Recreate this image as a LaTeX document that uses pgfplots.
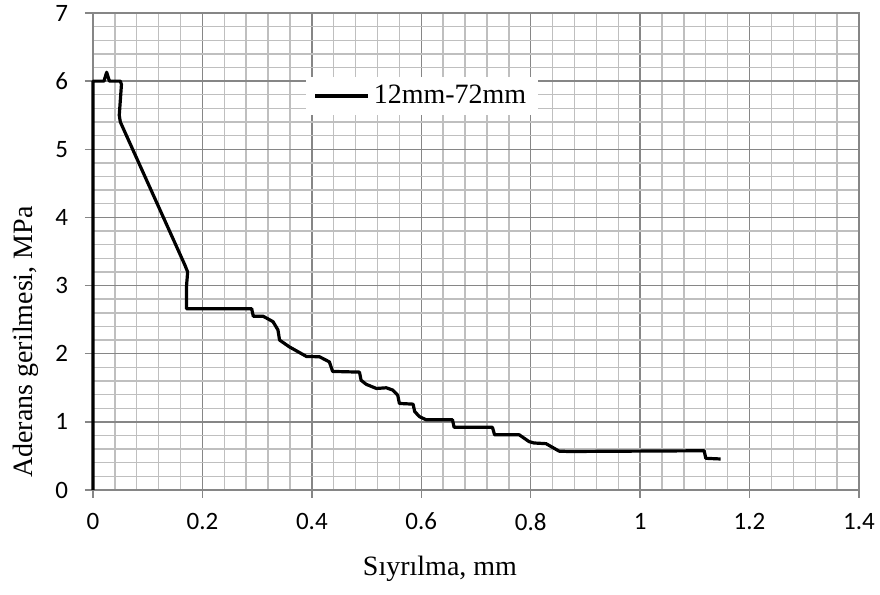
\documentclass[border=0pt]{standalone}
\usepackage{fontspec}
\setmainfont{Liberation Serif}
\newfontfamily\carlito{Carlito}
\usepackage{pgfplots}
\pgfplotsset{compat=1.18}
\definecolor{majorgrid}{RGB}{134,134,134}
\definecolor{minorgrid}{RGB}{191,191,191}

\begin{document}
\begin{tikzpicture}
% page = 880x595 px at 0.5pt per px, axis box at (0,0)
\path[use as bounding box, fill=white] (-46.5pt,-52.5pt) rectangle ++(440pt,297.5pt);
\begin{axis}[
    scale only axis, width=383pt, height=238.5pt,
    xmin=0, xmax=1.4, ymin=0, ymax=7,
    xtick distance=0.2, ytick distance=1,
    minor x tick num=4, minor y tick num=4,
    grid=both,
    major grid style={draw=majorgrid, line width=0.7pt},
    minor grid style={draw=minorgrid, line width=0.7pt},
    axis line style={draw=majorgrid, line width=0.7pt},
    tick pos=left, tick align=outside,
    major tick length=4pt, minor tick length=0pt,
    tick style={draw=majorgrid, line width=0.7pt},
    tick label style={font=\carlito\fontsize{12.5}{14}\selectfont},
    xticklabel style={yshift=-4pt},
    yticklabel style={xshift=-5pt},
    /pgf/number format/assume math mode=true,
    clip=false,
    xlabel={Sıyrılma, mm},
    ylabel={Aderans gerilmesi, MPa},
    label style={font=\fontsize{14}{16}\selectfont},
    xlabel style={at={(axis description cs:0.453,-0.124)}, anchor=north},
    ylabel style={at={(axis description cs:-0.062,0.31)}, anchor=south},
    legend style={at={(axis description cs:0.277,0.866)}, anchor=north west,
        draw=none, fill=white, font=\fontsize{14}{16}\selectfont,
        inner xsep=4pt, inner ysep=2pt},
    legend image code/.code={\draw[#1] (0pt,0pt) -- (26.5pt,0pt);},
]
\addplot[black, line width=1.6pt, line join=round] coordinates {
    (0,0) (0,6.0) (0.02,6.0) (0.025,6.13) (0.03,6.0) (0.05,6.0)
    (0.052,5.95) (0.048,5.5) (0.05,5.4) (0.168,3.3) (0.173,3.2)
    (0.171,3.0) (0.171,2.66) (0.29,2.66) (0.293,2.55) (0.311,2.55)
    (0.329,2.47) (0.338,2.35) (0.341,2.2) (0.359,2.10) (0.39,1.96)
    (0.414,1.955) (0.432,1.88) (0.438,1.74) (0.487,1.73) (0.49,1.61)
    (0.4995,1.55) (0.518,1.49) (0.536,1.5) (0.548,1.466) (0.557,1.39)
    (0.560,1.27) (0.585,1.26) (0.588,1.15) (0.597,1.075) (0.609,1.03)
    (0.657,1.03) (0.66,0.92) (0.73,0.92) (0.734,0.81) (0.779,0.81)
    (0.797,0.71) (0.806,0.69) (0.828,0.68) (0.852,0.57) (0.87,0.565)
    (1.117,0.576) (1.12,0.465) (1.147,0.455)
};
\addlegendentry{12mm-72mm}
\end{axis}
\end{tikzpicture}
\end{document}
